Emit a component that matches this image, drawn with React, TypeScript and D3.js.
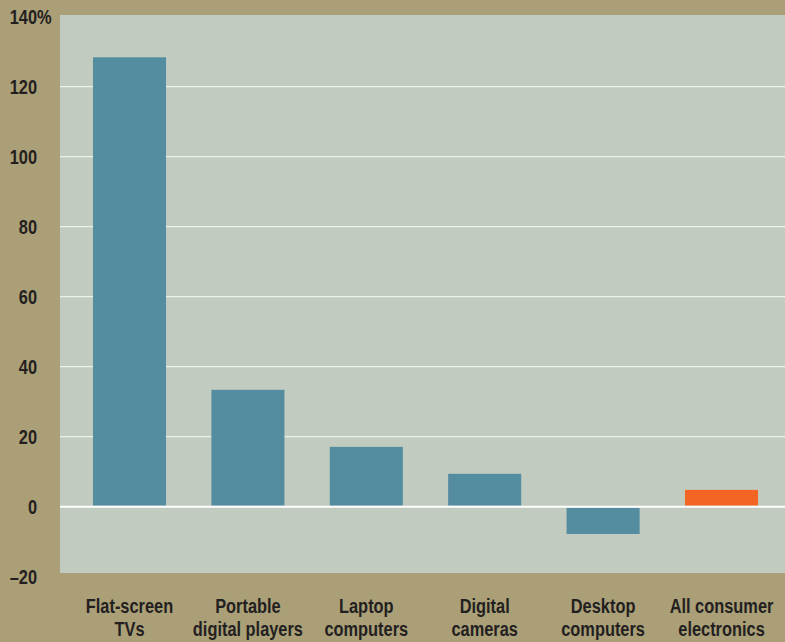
import React from "react";
import * as d3 from "d3";

const categories: string[][] = [
  ["Flat-screen", "TVs"],
  ["Portable", "digital players"],
  ["Laptop", "computers"],
  ["Digital", "cameras"],
  ["Desktop", "computers"],
  ["All consumer", "electronics"],
];
const values: number[] = [128.4, 33.4, 17.1, 9.4, -7.8, 4.8];
const highlight: boolean[] = [false, false, false, false, false, true];
const yTicks: number[] = [140, 120, 100, 80, 60, 40, 20, 0, -20];
const gridTicks: number[] = [20, 40, 60, 80, 100, 120];

const W = 785;
const H = 642;
const plotLeft = 60;
const plotRight = 785;
const plotTop = 15;
const plotBottom = 573;
const FONT = "'Liberation Sans', Arial, sans-serif";
const SX = 0.78;

export default function App() {
  const y = d3.scaleLinear().domain([-20, 140]).range([576.7, 16.7]);
  const x = d3
    .scaleBand<number>()
    .domain(d3.range(values.length))
    .range([70.3, 780.7])
    .paddingInner(0.383)
    .paddingOuter(0.1915);
  const y0 = y(0);
  return (
    <svg
      width={W}
      height={H}
      style={{ position: "absolute", left: 0, top: 0, display: "block" }}
      fontFamily={FONT}
      fontWeight="bold"
    >
      <rect x={0} y={0} width={W} height={H} fill="#ab9f78" />
      <rect x={plotLeft} y={plotTop} width={plotRight - plotLeft} height={plotBottom - plotTop} fill="#c2cbbf" />
      {gridTicks.map((t) => (
        <line key={t} x1={plotLeft} x2={plotRight} y1={y(t)} y2={y(t)} stroke="#eef1ea" strokeWidth={1.2} />
      ))}
      {values.map((v, i) => {
        const top = v >= 0 ? y(v) : y0 + 1;
        const bot = v >= 0 ? y0 - 1 : y(v);
        return (
          <rect
            key={i}
            x={x(i)}
            y={top}
            width={x.bandwidth()}
            height={bot - top}
            fill={highlight[i] ? "#f26522" : "#548ca0"}
          />
        );
      })}
      <line x1={plotLeft} x2={plotRight} y1={y0} y2={y0} stroke="#ffffff" strokeWidth={2} />
      {yTicks.map((t) => (
        <g key={t} transform={`translate(37,${y(t)}) scale(${SX},1)`}>
          <text x={0} y={0} dy="0.36em" textAnchor="end" fontSize={21} fill="#231f20">
            {t < 0 ? "\u2013" + Math.abs(t) : String(t)}
          </text>
          {t === 140 && (
            <text x={0} y={0} dy="0.36em" textAnchor="start" fontSize={21} fill="#231f20">
              %
            </text>
          )}
        </g>
      ))}
      {categories.map((lines, i) => (
        <g key={i} transform={`translate(${(x(i) as number) + x.bandwidth() / 2},0) scale(${SX},1)`}>
          <text x={0} y={605} textAnchor="middle" fontSize={21} fill="#231f20">
            {lines.map((l, j) => (
              <tspan key={j} x={0} y={605 + j * 23} dy="0.36em">
                {l}
              </tspan>
            ))}
          </text>
        </g>
      ))}
    </svg>
  );
}
